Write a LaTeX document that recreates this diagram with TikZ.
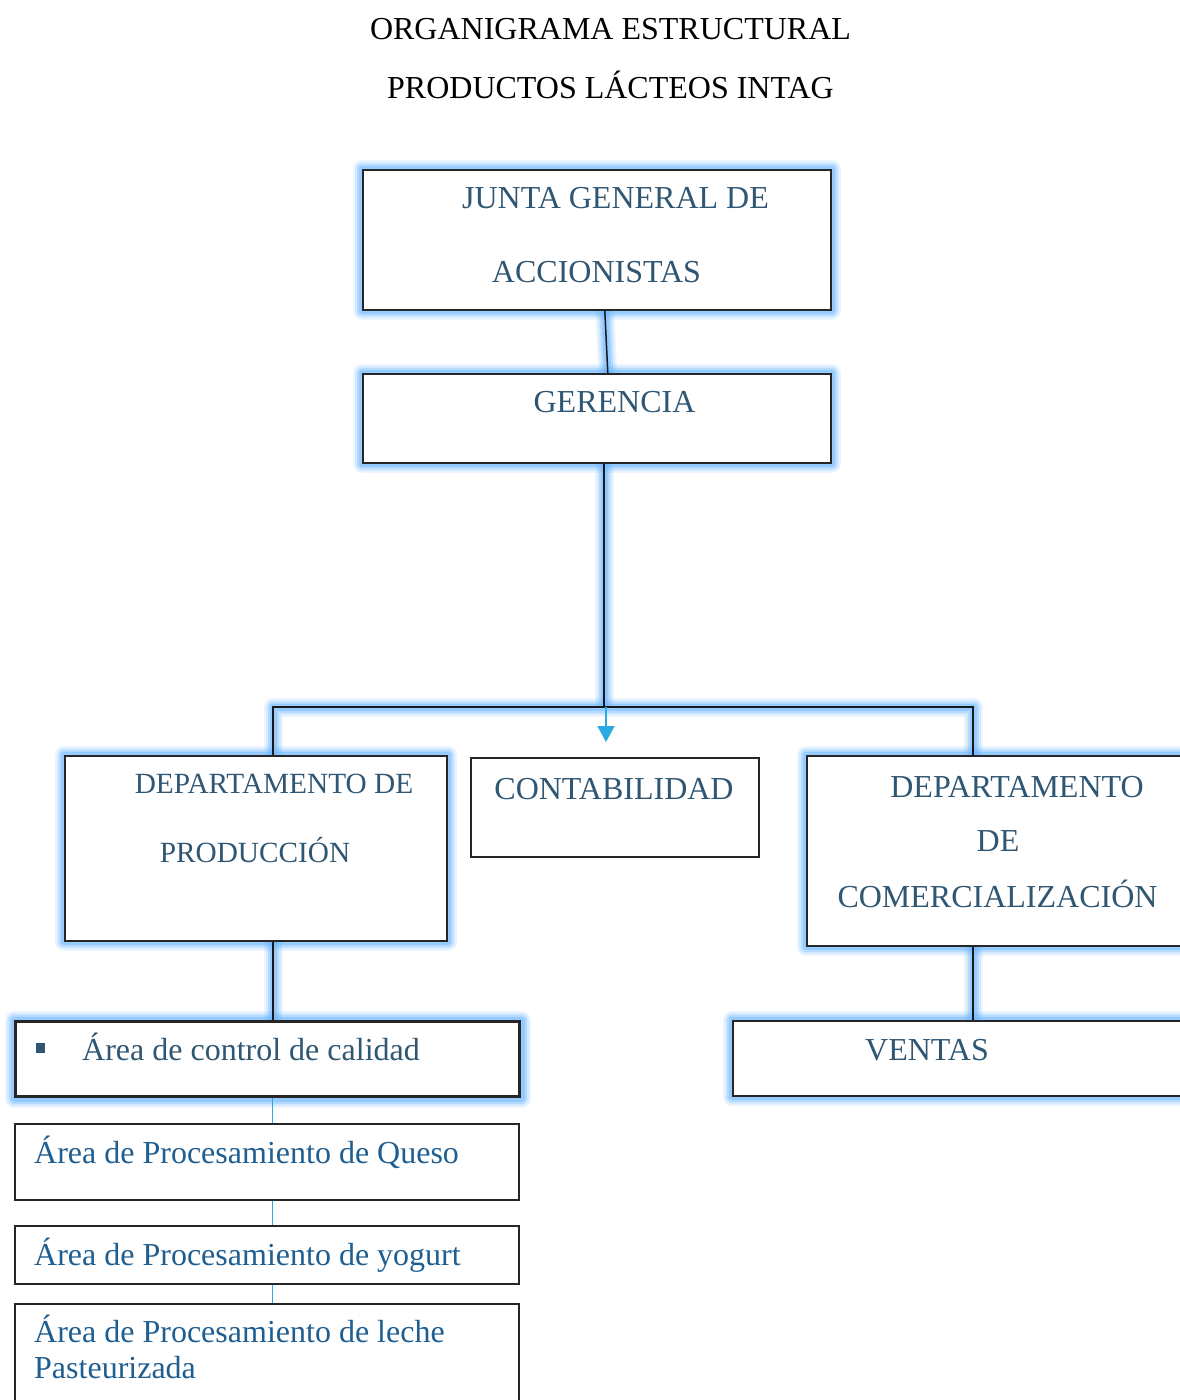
\documentclass[tikz,border=0pt]{standalone}
\usepackage{fontspec}
\setmainfont{Liberation Serif}
\usetikzlibrary{arrows.meta}
\pgfdeclarelayer{background}
\pgfsetlayers{background,main}
\definecolor{boxtext}{RGB}{47,86,114}
\definecolor{areatext}{RGB}{31,94,145}
\definecolor{glowc}{RGB}{100,180,255}
\definecolor{cyanline}{RGB}{41,171,226}
\tikzset{
  box/.style={draw=black!85, line width=1.6pt, fill=white, inner sep=0pt, anchor=north west},
  glowA/.style={draw=glowc, line width=19pt, draw opacity=0.12, line join=round},
  glowB/.style={draw=glowc, line width=15pt, draw opacity=0.18, line join=round},
  glowC/.style={draw=glowc, line width=11pt, draw opacity=0.28, line join=round},
  glowD/.style={draw=glowc, line width=7pt, draw opacity=0.38, line join=round},
  conn/.style={draw=black!90, line width=1.5pt},
  thin/.style={draw=cyanline, line width=1pt},
  lbl/.style={inner sep=0pt, anchor=base, text=boxtext, font=\fontsize{32}{38}\selectfont},
  arealbl/.style={inner sep=0pt, anchor=base west, text=areatext, font=\fontsize{32}{38}\selectfont},
  ttl/.style={inner sep=0pt, anchor=base, text=black, font=\fontsize{32}{38}\selectfont}
}
\begin{document}
\begin{tikzpicture}[x=1pt,y=-1pt]
\useasboundingbox (0,0) rectangle (1180,1400);
\clip (0,0) rectangle (1180,1400);

% titles
\node[ttl] (t1) at (610.5,39) {ORGANIGRAMA ESTRUCTURAL};
\node[ttl] (t2) at (610.5,98) {PRODUCTOS LÁCTEOS INTAG};

% boxes
\node[box, minimum width=468pt, minimum height=140pt] (junta) at (362,169) {};
\node[box, minimum width=468pt, minimum height=89pt] (gerencia) at (362,373) {};
\node[box, minimum width=382pt, minimum height=185pt] (prod) at (64,755) {};
\node[box, minimum width=288pt, minimum height=99pt] (contab) at (470,757) {};
\node[box, minimum width=400pt, minimum height=190pt] (com) at (806,755) {};
\node[box, line width=3pt, minimum width=504pt, minimum height=75pt] (calidad) at (14,1020) {};
\node[box, minimum width=504pt, minimum height=76pt] (queso) at (14,1123) {};
\node[box, minimum width=504pt, minimum height=58pt] (yogurt) at (14,1225) {};
\node[box, minimum width=504pt, minimum height=130pt] (leche) at (14,1303) {};
\node[box, minimum width=470pt, minimum height=75pt] (ventas) at (732,1020) {};

% helper coordinates
\coordinate (busM) at (604,707);
\coordinate (busL) at (273,707);
\coordinate (busR) at (973,707);
\coordinate (spine) at (272,0);
\coordinate (arrowx) at (606,0);

% glows
\begin{pgfonlayer}{background}
\fill[white] (0,0) rectangle (1180,1400);
\foreach \g in {glowA,glowB,glowC,glowD}{
  \foreach \b in {junta,gerencia,prod,com,calidad,ventas}{
    \draw[\g] (\b.north west) rectangle (\b.south east);
  }
  \draw[\g] ([xshift=8pt]junta.south) -- ([xshift=11pt]gerencia.north);
  \draw[\g] (gerencia.south -| busM) -- (busM);
  \draw[\g] (prod.north -| busL) -- (busL) -- (busR) -- (com.north -| busR);
  \draw[\g] (prod.south -| busL) -- (calidad.north -| busL);
  \draw[\g] (com.south -| busR) -- (ventas.north -| busR);
}
\end{pgfonlayer}

% connectors
\draw[conn] ([xshift=8pt]junta.south) -- ([xshift=11pt]gerencia.north);
\draw[conn] (gerencia.south -| busM) -- (busM);
\draw[conn] (prod.north -| busL) -- (busL) -- (busR) -- (com.north -| busR);
\draw[conn] (prod.south -| busL) -- (calidad.north -| busL);
\draw[conn] (com.south -| busR) -- (ventas.north -| busR);
\draw[draw=cyanline, line width=1.8pt, -{Triangle[width=17pt,length=16pt]}, shorten >=15pt]
  (busM -| arrowx) -- (contab.north -| arrowx);
\draw[thin] (calidad.south -| spine) -- (queso.north -| spine);
\draw[thin] (queso.south -| spine) -- (yogurt.north -| spine);
\draw[thin] (yogurt.south -| spine) -- (leche.north -| spine);

% labels
\node[lbl] (l1) at (615.5,208) {JUNTA GENERAL DE};
\node[lbl] (l2) at (596.5,282) {ACCIONISTAS};
\node[lbl] (l3) at (614.5,412) {GERENCIA};
\node[lbl, font=\fontsize{29.3}{35}\selectfont] (l4) at (274,793) {DEPARTAMENTO DE};
\node[lbl, font=\fontsize{29.3}{35}\selectfont] (l5) at (255,862) {PRODUCCIÓN};
\node[lbl] (l6) at (614,799) {CONTABILIDAD};
\node[lbl] (l7) at (1017,797) {DEPARTAMENTO};
\node[lbl] (l8) at (998,851) {DE};
\node[lbl] (l9) at (997.5,907) {COMERCIALIZACIÓN};
\node[lbl] (l10) at (927,1060) {VENTAS};
\fill[boxtext] (36,1043) rectangle (45,1053);
\node[lbl, anchor=base west] (l11) at (82,1060) {Área de control de calidad};
\node[arealbl] (l12) at (34,1163) {Área de Procesamiento de Queso};
\node[arealbl] (l13) at (34,1265) {Área de Procesamiento de yogurt};
\node[arealbl] (l14) at (34,1342) {Área de Procesamiento de leche};
\node[arealbl] (l15) at (34,1378) {Pasteurizada};
\end{tikzpicture}
\end{document}
